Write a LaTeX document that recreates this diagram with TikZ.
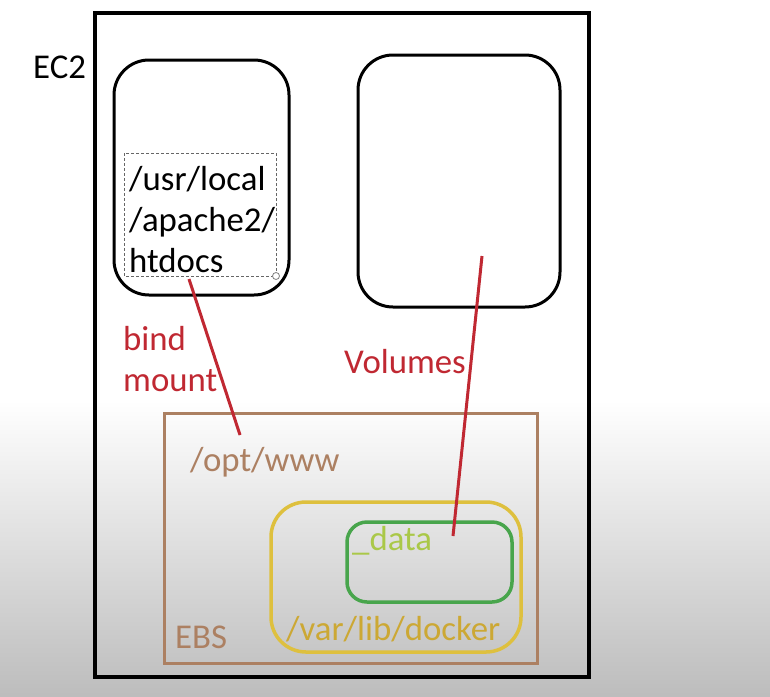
\documentclass[tikz,border=0pt]{standalone}
\usepackage{fontspec}
\setmainfont{Carlito}
\usepackage{xcolor}
\definecolor{linkred}{RGB}{192,40,50}
\definecolor{ebsbrown}{RGB}{172,128,98}
\definecolor{dockeryellow}{RGB}{222,192,62}
\definecolor{dockertext}{RGB}{204,168,52}
\definecolor{datagreen}{RGB}{72,165,76}
\definecolor{datatext}{RGB}{170,200,72}
\usetikzlibrary{positioning,calc}

\tikzset{
  label text/.style={inner sep=0pt, anchor=base west, font=\fontsize{34.8}{40}\selectfont},
  container/.style={draw=black, line width=3pt, rounded corners=35pt},
  link/.style={draw=linkred, line width=3pt},
}

\begin{document}
\begin{tikzpicture}[x=1pt, y=-1pt]
				\useasboundingbox (0,0) rectangle (770,696);
				% background
				\fill[white] (0,0) rectangle (770,400);
				\shade[top color=white, bottom color=black!26] (0,400) rectangle (770,696);
				% EC2 host
				\draw[line width=4pt] (95,13) rectangle (589,677);
				\node[label text] (ec2) at (33,78) {EC2};
				% containers
				\draw[container] (114,60) rectangle (289,295);
				\draw[container] (358,55) rectangle (560,307);
				\draw[black!60, line width=0.8pt, dash pattern=on 3pt off 2pt] (124,153) rectangle (276,276);
				\draw[black!50, fill=white, line width=0.8pt] (276,276) circle (3.5);
				\node[label text] (usr) at (129,190) {/usr/local};
				\node[label text] (apache) at (129,231) {/apache2/};
				\node[label text] (htdocs) at (129,272) {htdocs};
				% EBS
				\draw[ebsbrown, line width=3pt] (164,413) rectangle (537,663);
				\node[label text, text=ebsbrown] (opt) at (190,471) {/opt/www};
				\node[label text, text=ebsbrown] (ebs) at (175,648) {EBS};
				\draw[dockeryellow, line width=3.5pt, rounded corners=35pt] (271,502) rectangle (521,652);
				\node[label text, text=dockertext] (docker) at (286,640) {/var/lib/docker};
				\draw[datagreen, line width=3.5pt, rounded corners=20pt] (347,522) rectangle (512,602);
				\node[label text, text=datatext] (data) at (352,550) {\_data};
				% mounts
				\node[label text, text=linkred] (bind) at (123,350) {bind};
				\node[label text, text=linkred] (mount) at (123,391) {mount};
				\node[label text, text=linkred] (volumes) at (344,373) {Volumes};
				\coordinate (bindsrc) at (189,279);
				\coordinate (binddst) at (240,435);
				\coordinate (volsrc) at (482,256);
				\coordinate (voldst) at (453,536);
				\draw[link] (bindsrc) -- (binddst);
				\draw[link] (volsrc) -- (voldst);
			\end{tikzpicture}
\end{document}
